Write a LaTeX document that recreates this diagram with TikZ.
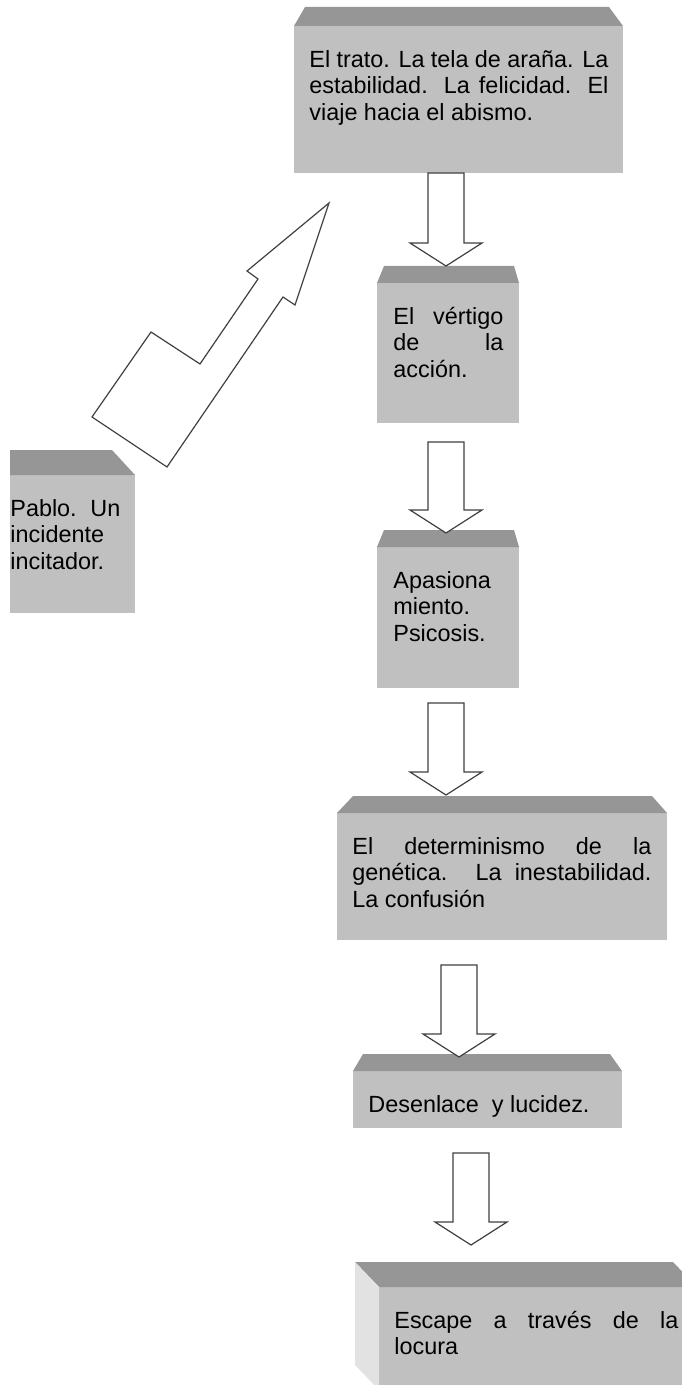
\documentclass[tikz,border=0pt]{standalone}
\usepackage{fontspec}
\usepackage{tikz}
\usetikzlibrary{calc,fit,positioning}
\newfontfamily\arial{Liberation Sans}
\definecolor{cuerpo}{RGB}{192,192,192}
\definecolor{tapa}{RGB}{150,150,150}
\definecolor{lado}{RGB}{226,226,226}
\newcommand{\Flecha}[2]{\draw [flecha] ($(#1)+(-18,0)$) -- ($(#2)+(-18,-23)$) -- ($(#2)+(-36,-23)$) -- (#2) -- ($(#2)+(36,-23)$) -- ($(#2)+(18,-23)$) -- ($(#1)+(18,0)$) -- cycle;}
\newcommand{\Bisel}[4]{\fill [tapa] (#1.north west) -- (#1.north east) -- ([shift={(-#4,-#2)}]#1.north east) -- ([shift={(#3,-#2)}]#1.north west) -- cycle;}

\begin{document}
\begin{tikzpicture}
[x=0.5pt, y=-0.5pt,
 caja/.style={fill=cuerpo,inner sep=0pt,outer sep=0pt},
 texto/.style={font=\arial\fontsize{11.7}{13.3}\selectfont,inner sep=0pt,anchor=north west,align=justify},
 flecha/.style={draw=black!75,line width=0.6pt,fill=white},]

\useasboundingbox (0,0) rectangle (681,1385);

\node [caja, fit={(294,26) (623,173)}] (t1) {};
\node [caja, fit={(10,475) (135,613)}] (p) {};
\node [caja, fit={(377,283) (519,423)}] (t2) {};
\node [caja, fit={(377,547) (519,688)}] (t3) {};
\node [caja, fit={(337,813) (667,940)}] (t4) {};
\node [caja, fit={(353,1071) (622,1128)}] (t5) {};
\node [caja, fit={(379,1287) (697,1390)}] (t6) {};

\Bisel{t1}{19}{11}{14}
\Bisel{p}{25}{0}{23}
\Bisel{t2}{17}{7}{5}
\Bisel{t3}{17}{7}{5}
\Bisel{t4}{17}{16}{15}
\Bisel{t5}{17}{10}{12}
\fill [tapa] (t6.north west) -- (t6.north east) -- ([shift={(-24,-25)}]t6.north east) -- ([shift={(-24,-25)}]t6.north west) -- cycle;
\fill [lado] (t6.north west) -- ([shift={(-24,-25)}]t6.north west) -- ([shift={(-24,-25)}]t6.south west) -- (t6.south west) -- cycle;

\node [texto, text width=149.5pt] at ([shift={(15,22)}]t1.north west) (t1x) {\strut El trato. La tela de araña. La\linebreak estabilidad. La felicidad. El\linebreak viaje hacia el abismo.};
\node [texto, text width=55pt] at ([shift={(0,22)}]p.north west) (px) {\strut Pablo. Un\linebreak incidente\linebreak incitador.};
\node [texto, text width=55pt] at ([shift={(16,22)}]t2.north west) (t2x) {\strut El vértigo\linebreak de la\linebreak acción.};
\node [texto, text width=55pt] at ([shift={(16,22)}]t3.north west) (t3x) {\strut Apasiona\linebreak miento.\linebreak Psicosis.};
\node [texto, text width=149.5pt] at ([shift={(15,22)}]t4.north west) (t4x) {\strut El determinismo de la\linebreak genética. La inestabilidad.\linebreak La confusión};
\node [texto, text width=120pt] at ([shift={(15,22)}]t5.north west) (t5x) {\strut Desenlace~~y lucidez.};
\node [texto, text width=142pt] at ([shift={(15,22)}]t6.north west) (t6x) {\strut Escape a través de la\linebreak locura};

\coordinate (f1) at (446,173);  \coordinate (f1p) at (446,266);
\coordinate (f2) at (446,442);  \coordinate (f2p) at (446,533);
\coordinate (f3) at (446,703);  \coordinate (f3p) at (446,795);
\coordinate (f4) at (459,965);  \coordinate (f4p) at (459,1057);
\coordinate (f5) at (471,1153); \coordinate (f5p) at (471,1245);

\Flecha{f1}{f1p}
\Flecha{f2}{f2p}
\Flecha{f3}{f3p}
\Flecha{f4}{f4p}
\Flecha{f5}{f5p}

\draw [flecha] (92,417) -- (151,332) -- (200,364) -- (258,279) -- (247,271) -- (329,203) -- (295,305) -- (283,297) -- (167,467) -- cycle;
\end{tikzpicture}
\end{document}
